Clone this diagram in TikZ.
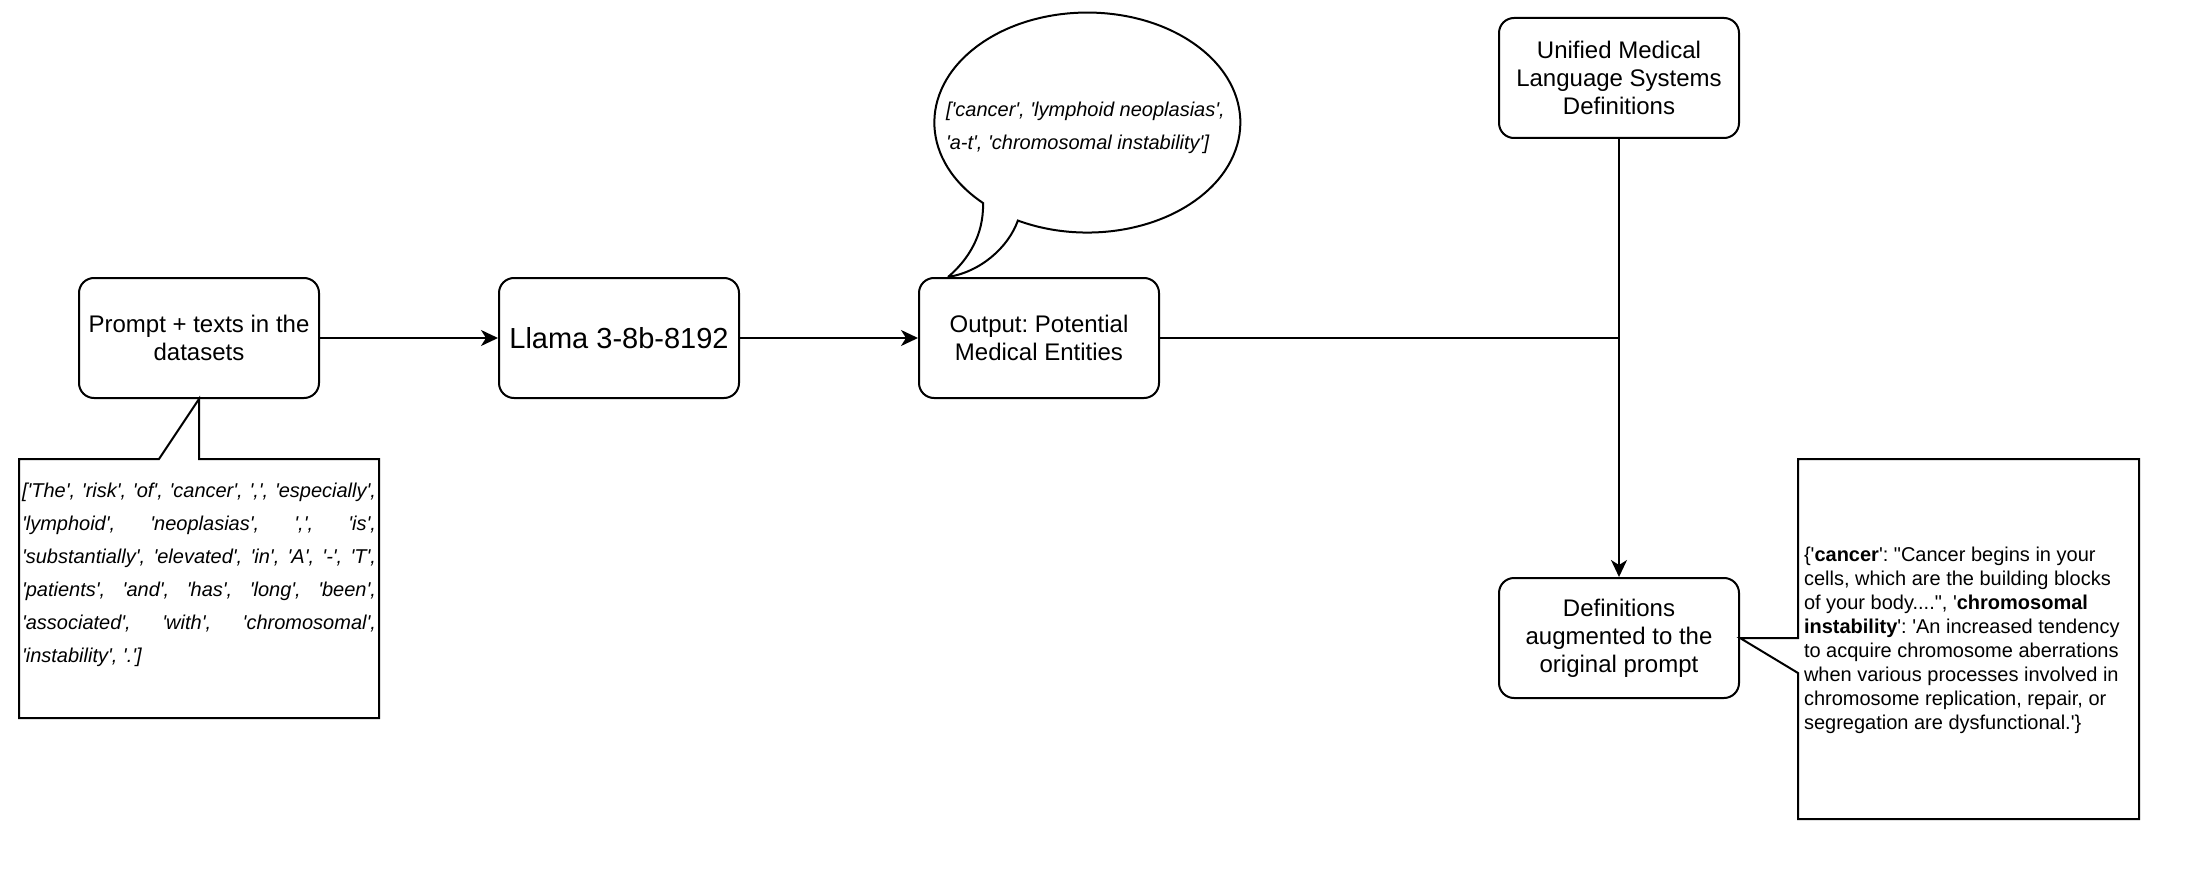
\documentclass[tikz,border=0pt]{standalone}
\usepackage{fontspec}
\setmainfont{Liberation Sans}[Ligatures=TeXOff]
\usepackage{tikz}
\usetikzlibrary{arrows.meta}
\usetikzlibrary{positioning}
\hbadness=10000
\frenchspacing

\begin{document}
\begin{tikzpicture}[x=1pt, y=-1pt, line width=2pt,
    box/.style={draw, rounded corners=15pt, minimum width=240pt, minimum height=120pt, align=center, font=\fontsize{24}{28}\selectfont},
    words/.style={inner sep=0pt, font=\fontsize{20}{33}\selectfont\itshape},
    arr/.style={-{Stealth[length=17pt,width=16pt,inset=5pt]}}]
    \fill[white] (0,0) rectangle (2190,888);
    \useasboundingbox (0,0) rectangle (2190,888);

    \node[box] (prompt) at (199,338) {Prompt + texts in the\\datasets};
    \node[box, font=\fontsize{29}{34}\selectfont] (llama) [right=178pt of prompt] {Llama 3-8b-8192};
    \node[box] (out) [right=178pt of llama] {Output: Potential\\Medical Entities};
    \node[box] (umls) at (1619,78) {Unified Medical\\Language Systems\\Definitions};
    \node[box] (defs) [below=438pt of umls] {Definitions\\augmented to the\\original prompt};

    \draw[arr] (prompt) -- (llama);
    \draw[arr] (llama) -- (out);
    \draw (out.east) -- (out.east -| umls.south);
    \draw[arr] (umls) -- (defs);

    \draw (19,459) -- (159,459) -- (prompt.south) -- (199,459) -- (379,459) -- (379,718) -- (19,718) -- cycle;
    \node[words, text width=354pt, align=justify, anchor=west] (tokens) at (21,575)
      {['The', 'risk', 'of', 'cancer', ',', 'especially',\linebreak
       'lymphoid', 'neoplasias', ',', 'is',\linebreak
       'substantially', 'elevated', 'in', 'A', '-', 'T',\linebreak
       'patients', 'and', 'has', 'long', 'been',\linebreak
       'associated', 'with', 'chromosomal',\linebreak
       'instability', '.']};

    \draw (948,277) .. controls (968,260) and (984,235) .. (983,203)
      arc[start angle=133, end angle=477, x radius=153, y radius=110]
      .. controls (1008,248) and (980,272) .. (948,277);
    \node[words, align=left, anchor=west] (entities) at (945,128)
      {['cancer', 'lymphoid neoplasias',\\'a-t', 'chromosomal instability']};

    \draw (defs.east) -- (1798,638) -- (1798,459) -- (2139,459) -- (2139,819) -- (1798,819) -- (1798,673) -- cycle;
    \node[inner sep=0pt, align=left, anchor=west, font=\fontsize{20}{24}\selectfont] (defstext) at (1803,640)
      {\{'\textbf{cancer}': "Cancer begins in your\\
       cells, which are the building blocks\\
       of your body....", '\textbf{chromosomal}\\
       \textbf{instability}': 'An increased tendency\\
       to acquire chromosome aberrations\\
       when various processes involved in\\
       chromosome replication, repair, or\\
       segregation are dysfunctional.'\}};
\end{tikzpicture}
\end{document}
